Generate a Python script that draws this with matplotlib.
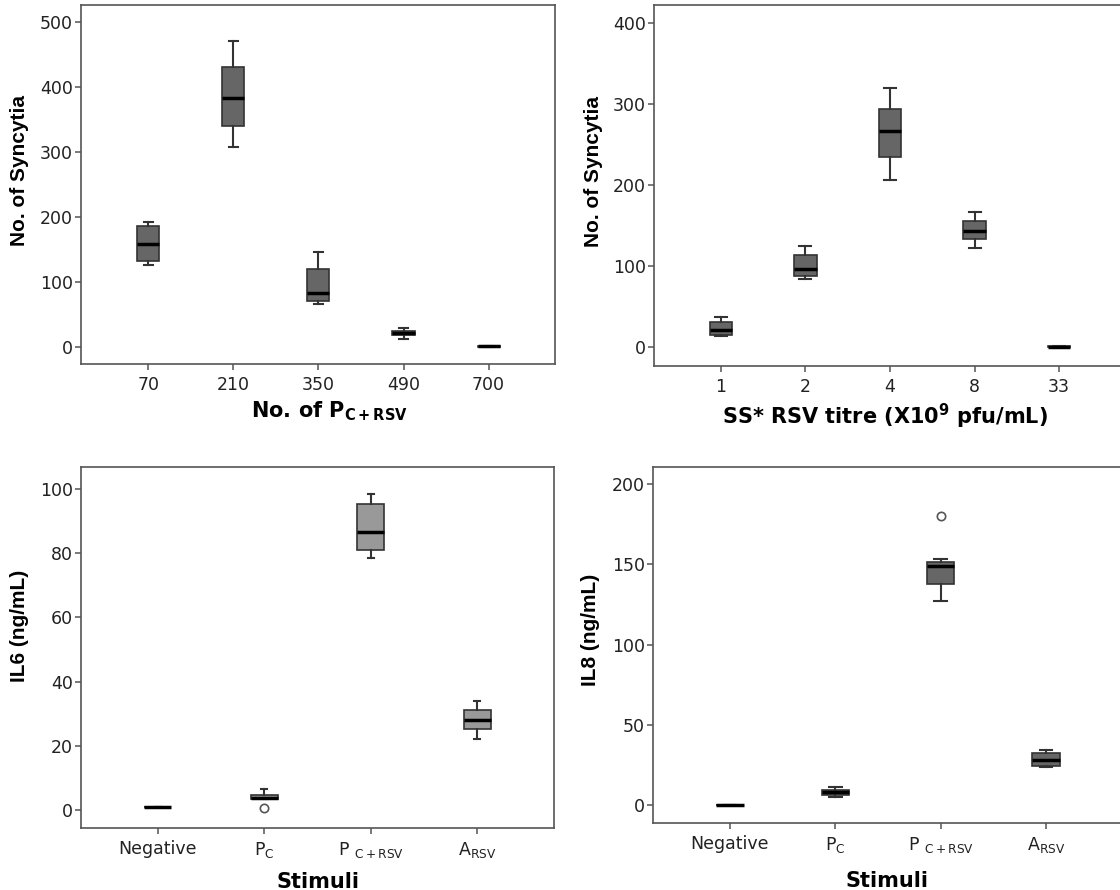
import matplotlib
matplotlib.use("Agg")
import matplotlib.pyplot as plt

plt.rcParams['font.family'] = ['DejaVu Sans']
plt.rcParams['mathtext.fontset'] = 'dejavusans'

# ---- Panel A: syncytia vs number of P_C+RSV ----
a_labels = ["70", "210", "350", "490", "700"]
a_q1 = [132, 340, 71, 19, 0.5]
a_med = [159, 383, 83, 22, 1]
a_q3 = [186, 431, 120, 25, 1.5]
a_lo = [126, 308, 67, 12, 0.5]
a_hi = [193, 470, 146, 29, 1.5]
a_fliers = [[], [], [], [], []]

# ---- Panel B: syncytia vs SS* RSV titre ----
b_labels = ["1", "2", "4", "8", "33"]
b_q1 = [15, 88, 235, 133, 0.3]
b_med = [21, 97, 267, 143, 1]
b_q3 = [31, 114, 294, 156, 1.5]
b_lo = [14, 84, 206, 122, 0.3]
b_hi = [37, 125, 320, 167, 1.5]
b_fliers = [[], [], [], [], []]

# ---- Panel C: IL6 by stimuli ----
stim_labels = ["Negative", r"P$_{\mathrm{C}}$", r"P $_{\mathrm{C+RSV}}$", r"A$_{\mathrm{RSV}}$"]
c_q1 = [1, 3.3, 81, 25.1]
c_med = [1, 3.9, 86.5, 28.2]
c_q3 = [1, 4.6, 95.5, 31.2]
c_lo = [1, 3.3, 78.5, 22.1]
c_hi = [1, 6.5, 98.5, 34]
c_fliers = [[], [0.5], [], []]

# ---- Panel D: IL8 by stimuli ----
d_q1 = [0, 6.4, 138, 24.5]
d_med = [0, 7.9, 149, 28]
d_q3 = [0, 9.3, 151.5, 32.2]
d_lo = [0, 5.2, 127, 24]
d_hi = [0, 11.4, 153.5, 34]
d_fliers = [[], [], [180], []]

SPINE = "#555555"
EDGE = "#333333"
TICK_FS = 12.5
LABEL_FS = 15


def draw(ax, q1, med, q3, lo, hi, fliers, labels, color, width, capw):
    stats = []
    for i in range(len(med)):
        stats.append(dict(q1=q1[i], med=med[i], q3=q3[i], whislo=lo[i],
                          whishi=hi[i], fliers=fliers[i]))
    ax.bxp(stats, positions=list(range(len(med))), widths=width,
           capwidths=capw, patch_artist=True, showfliers=True,
           boxprops=dict(facecolor=color, edgecolor=EDGE, linewidth=1.2),
           medianprops=dict(color="black", linewidth=2.5, solid_capstyle="butt"),
           whiskerprops=dict(color=EDGE, linewidth=1.5),
           capprops=dict(color=EDGE, linewidth=1.5),
           flierprops=dict(marker="o", markerfacecolor="white",
                           markeredgecolor="#555555", markersize=6,
                           markeredgewidth=1.2, linestyle="none"))
    ax.set_xticks(list(range(len(med))))
    ax.set_xticklabels(labels)
    for s in ax.spines.values():
        s.set_color(SPINE)
        s.set_linewidth(1.2)
    ax.tick_params(axis="both", direction="out", length=4.5, width=1.1,
                   color=SPINE, labelsize=TICK_FS, labelcolor="#222222")
    ax.tick_params(axis="x", pad=4)
    ax.tick_params(axis="y", pad=1.5)


def ylab(ax, text, x, y):
    ax.set_ylabel(text, fontsize=LABEL_FS, fontweight="bold",
                  fontfamily="Liberation Sans")
    ax.yaxis.set_label_coords(x, y)
    ax.yaxis.label.set_va("center")
    ax.yaxis.label.set_ha("center")


def xlab(ax, text, x, y):
    ax.set_xlabel(text, fontsize=LABEL_FS, fontweight="bold")
    ax.xaxis.set_label_coords(x, y)
    ax.xaxis.label.set_va("baseline")
    ax.xaxis.label.set_ha("center")


fig = plt.figure(figsize=(11.2, 8.9), dpi=100)
W, H = 1120.0, 890.0


def axes_px(left, top, right, bottom):
    return fig.add_axes([left / W, (H - bottom) / H, (right - left) / W, (bottom - top) / H])


ax1 = axes_px(81, 5, 555, 364)
draw(ax1, a_q1, a_med, a_q3, a_lo, a_hi, a_fliers, a_labels, "#666666", 0.26, 0.11)
ax1.set_xlim(-0.79, 4.78)
ax1.set_ylim(-26, 526)
ax1.set_yticks([0, 100, 200, 300, 400, 500])
ylab(ax1, "No. of Syncytia", -0.129, 0.538)
xlab(ax1, r"No. of P$_{\mathbf{C+RSV}}$", 0.525, -0.150)

ax2 = axes_px(654, 5, 1126, 366)
draw(ax2, b_q1, b_med, b_q3, b_lo, b_hi, b_fliers, b_labels, "#666666", 0.265, 0.14)
ax2.set_xlim(-0.79, 4.79)
ax2.set_ylim(-23, 422)
ax2.set_yticks([0, 100, 200, 300, 400])
ylab(ax2, "No. of Syncytia", -0.129, 0.540)
xlab(ax2, r"SS* RSV titre (X10$^{\mathbf{9}}$ pfu/mL)", 0.49, -0.161)

ax3 = axes_px(81, 467, 554, 828)
draw(ax3, c_q1, c_med, c_q3, c_lo, c_hi, c_fliers, stim_labels, "#999999", 0.253, 0.055)
ax3.set_xlim(-0.72, 3.72)
ax3.set_ylim(-5.6, 106.9)
ax3.set_yticks([0, 20, 40, 60, 80, 100])
ylab(ax3, "IL6 (ng/mL)", -0.129, 0.560)
xlab(ax3, "Stimuli", 0.501, -0.166)

ax4 = axes_px(653, 467, 1123, 823)
draw(ax4, d_q1, d_med, d_q3, d_lo, d_hi, d_fliers, stim_labels, "#666666", 0.26, 0.12)
ax4.set_xlim(-0.73, 3.73)
ax4.set_ylim(-11.2, 210.6)
ax4.set_yticks([0, 50, 100, 150, 200])
ylab(ax4, "IL8 (ng/mL)", -0.134, 0.542)
xlab(ax4, "Stimuli", 0.497, -0.180)

fig.savefig("out.png", dpi=100)
